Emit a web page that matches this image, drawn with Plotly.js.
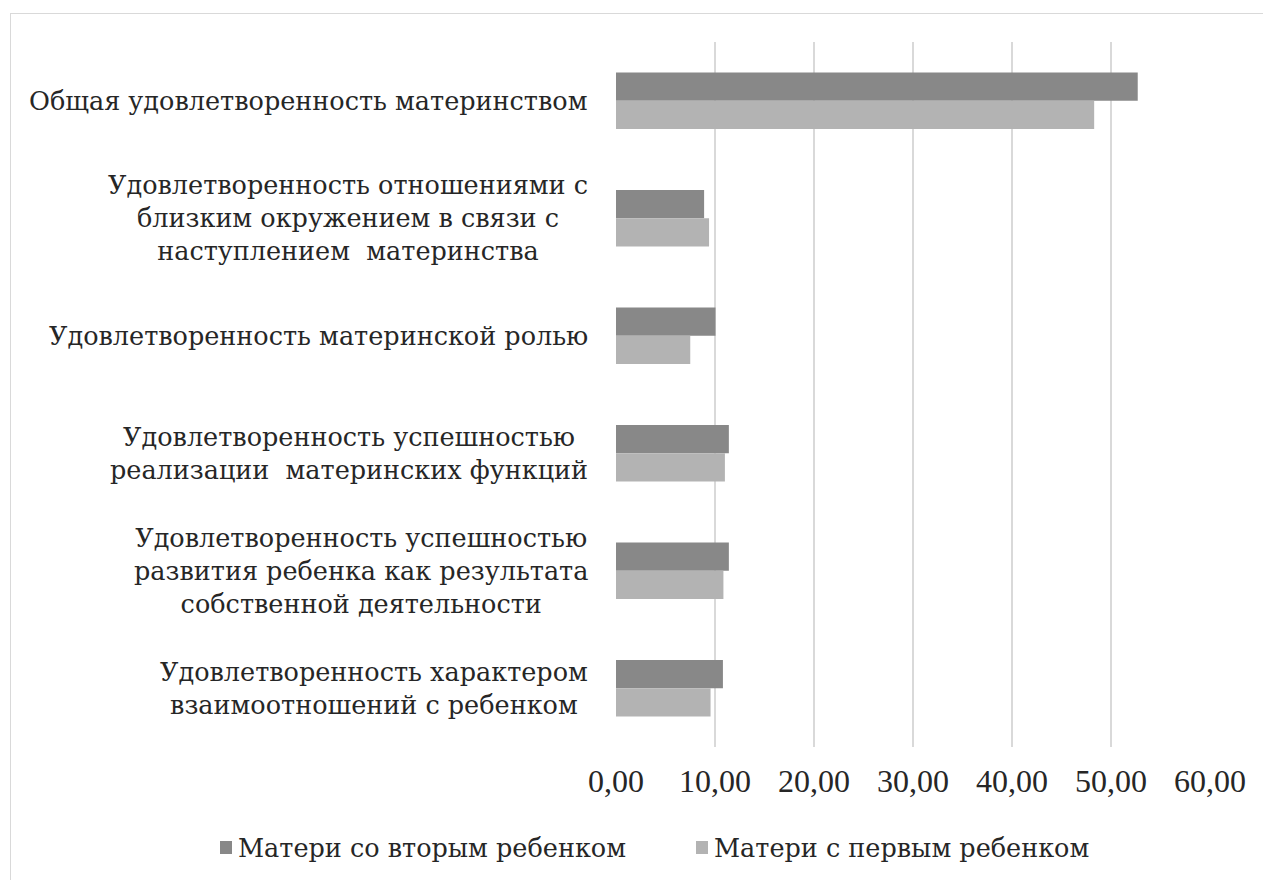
<!DOCTYPE html>
<html>
<head>
<meta charset="utf-8">
<script src="https://cdn.plot.ly/plotly-3.0.1.min.js"></script>
<style>
  html, body { margin: 0; padding: 0; background: #ffffff; overflow: hidden; }
  #frame { position: absolute; left: 10px; top: 13px; width: 1400px; height: 1000px; border: 1.5px solid #d9d9d9; box-sizing: border-box; }
  #chart { position: absolute; left: 0; top: 0; width: 1263px; height: 880px; }
</style>
</head>
<body>
<div id="frame"></div>
<div id="chart"></div>
<script>
const categories = [
  "Общая удовлетворенность материнством",
  "Удовлетворенность отношениями с<br>близким окружением в связи с<br>наступлением  материнства",
  "Удовлетворенность материнской ролью",
  "Удовлетворенность успешностью<br>реализации  материнских функций",
  "Удовлетворенность успешностью<br>развития ребенка как результата<br>собственной деятельности",
  "Удовлетворенность характером<br>взаимоотношений с ребенком"
];
const seriesNames = ["Матери со вторым ребенком", "Матери с первым ребенком"];
const seriesColors = ['#888888', '#b3b3b3'];
const secondChild = [52.7, 8.9, 10.05, 11.4, 11.4, 10.8];
const firstChild = [48.3, 9.4, 7.5, 11.0, 10.85, 9.55];
const tickVals = [0, 10, 20, 30, 40, 50, 60];
const tickText = ["0,00", "10,00", "20,00", "30,00", "40,00", "50,00", "60,00"];

const labelFont = { family: 'DejaVu Serif', size: 25.5, color: '#262626' };
const tickFont = { family: 'Liberation Serif', size: 32, color: '#262626' };

const traces = [
  { type: 'bar', orientation: 'h', name: seriesNames[0], y: categories, x: secondChild,
    marker: { color: seriesColors[0] }, hoverinfo: 'x', showlegend: false },
  { type: 'bar', orientation: 'h', name: seriesNames[1], y: categories, x: firstChild,
    marker: { color: seriesColors[1] }, hoverinfo: 'x', showlegend: false }
];

const annotations = categories.map(c => ({
  xref: 'paper', yref: 'y', x: 0, y: c, xanchor: 'right', yanchor: 'middle',
  xshift: -26, text: c, showarrow: false, align: 'center', font: labelFont
}));

// legend drawn as text + squares
const plotL = 616, plotR = 1210, plotT = 42, plotB = 747;
const px2x = px => (px - plotL) / (plotR - plotL);
const px2y = py => (plotB - py) / (plotB - plotT);
const legendText = [236, 712];
const legendY = 848;
const shapes = [];
seriesNames.forEach((nm, i) => {
  annotations.push({
    xref: 'paper', yref: 'paper', x: px2x(legendText[i]), y: px2y(legendY),
    xanchor: 'left', yanchor: 'middle', text: nm, showarrow: false, font: labelFont
  });
  shapes.push({
    type: 'rect', xref: 'paper', yref: 'paper',
    x0: px2x(legendText[i] - 16), x1: px2x(legendText[i] - 4),
    y0: px2y(legendY + 6), y1: px2y(legendY - 7),
    fillcolor: seriesColors[i], line: { width: 0 }
  });
});

const layout = {
  width: 1263, height: 880,
  margin: { l: plotL, r: 1263 - plotR, t: plotT, b: 880 - plotB },
  paper_bgcolor: 'rgba(0,0,0,0)', plot_bgcolor: 'rgba(0,0,0,0)',
  barmode: 'group', bargap: 0.52, bargroupgap: 0,
  font: labelFont,
  xaxis: {
    range: [0, 60], tickvals: tickVals, ticktext: tickText,
    showgrid: true, gridcolor: '#d9d9d9', gridwidth: 1.5,
    zeroline: false, showline: false, ticks: '', ticklabelstandoff: 12,
    tickfont: tickFont
  },
  yaxis: {
    type: 'category', autorange: 'reversed', showticklabels: false,
    showgrid: false, zeroline: false, showline: false, ticks: ''
  },
  showlegend: false,
  annotations: annotations,
  shapes: shapes
};

Plotly.newPlot('chart', traces, layout, { displayModeBar: false, staticPlot: true });
</script>
</body>
</html>
